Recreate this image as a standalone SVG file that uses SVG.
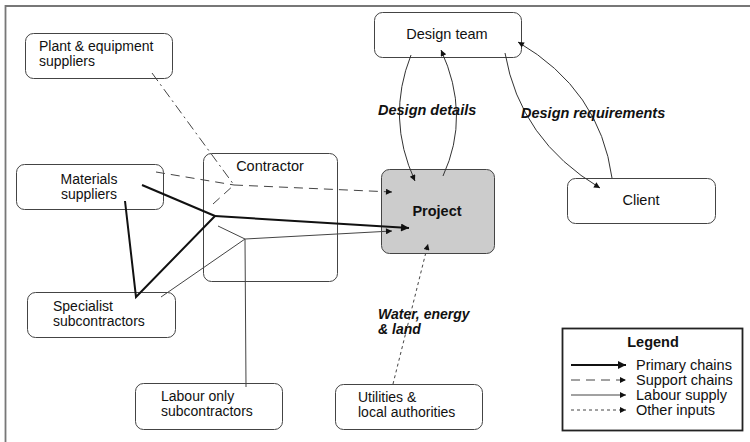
<svg xmlns="http://www.w3.org/2000/svg" width="750" height="442" viewBox="0 0 750 442">
<defs>
<marker id="ah" viewBox="0 0 10 10" refX="10" refY="5" markerWidth="9" markerHeight="6" markerUnits="userSpaceOnUse" orient="auto"><path d="M0,0 L10,5 L0,10 Z" fill="#111"/></marker>
<marker id="ahb" viewBox="0 0 10 10" refX="10" refY="5" markerWidth="13" markerHeight="8" markerUnits="userSpaceOnUse" orient="auto"><path d="M0,0 L10,5 L0,10 Z" fill="#111"/></marker>
<style>
.node rect{fill:#fff;stroke:#444;stroke-width:1}
text{font-family:"Liberation Sans",Arial,sans-serif;font-size:14.5px;fill:#111}
.node text{font-size:14px}
.lbl{font-weight:bold;font-style:italic}
.prim{stroke:#111;stroke-width:2;fill:none}
.supp{stroke:#444;stroke-width:1;stroke-dasharray:9,6;fill:none}
.dd{stroke:#444;stroke-width:1;stroke-dasharray:10,4,2,4;fill:none}
.lab{stroke:#444;stroke-width:1;fill:none}
.oth{stroke:#444;stroke-width:1;stroke-dasharray:3,3;fill:none}
.des{stroke:#333;stroke-width:1;fill:none}
</style>
</defs>
<rect width="750" height="442" fill="#fff"/>
<path d="M5.5,442 V6 H750" fill="none" stroke="#777" stroke-width="1.8"/>

<g id="contractor" class="node"><rect x="203.5" y="153.5" width="134" height="128" rx="8"/><text x="270" y="171" text-anchor="middle" style="font-size:14.5px">Contractor</text></g>
<g id="plant" class="node"><rect x="25.5" y="33.5" width="147" height="45" rx="8"/><text x="39" y="51">Plant &amp; equipment</text><text x="39" y="66">suppliers</text></g>
<g id="materials" class="node"><rect x="16.5" y="164.5" width="147" height="45" rx="8"/><text x="89" y="184" text-anchor="middle">Materials</text><text x="89" y="199" text-anchor="middle">suppliers</text></g>
<g id="design" class="node"><rect x="374.5" y="12.5" width="147" height="45" rx="8"/><text x="447" y="39" text-anchor="middle" style="font-size:14.5px">Design team</text></g>
<g id="project" class="node"><rect x="381.5" y="169.5" width="113" height="84" rx="8" style="fill:#cccccc"/><text x="437" y="216" text-anchor="middle" font-weight="bold" style="font-size:14.5px">Project</text></g>
<g id="client" class="node"><rect x="567.5" y="178.5" width="148" height="45" rx="8"/><text x="641" y="205" text-anchor="middle" style="font-size:14.5px">Client</text></g>
<g id="specialist" class="node"><rect x="27.5" y="292.5" width="148" height="45" rx="8"/><text x="53" y="311">Specialist</text><text x="53" y="326">subcontractors</text></g>
<g id="labour" class="node"><rect x="135.5" y="383.5" width="147" height="46" rx="8"/><text x="161" y="401">Labour only</text><text x="161" y="416">subcontractors</text></g>
<g id="utilities" class="node"><rect x="335.5" y="384.5" width="147" height="45" rx="8"/><text x="358" y="402">Utilities &amp;</text><text x="358" y="417">local authorities</text></g>

<g id="connectors">
<path class="dd" d="M152,73 L234,185"/>
<path class="supp" d="M156,172 L234,185"/>
<path class="supp" d="M213,204 L234,185"/>
<path class="supp" d="M234,185 L392,192" marker-end="url(#ah)"/>
<path class="prim" d="M142,185 L215,216"/>
<path class="prim" d="M125,201 L136,297 L215,216"/>
<path class="prim" d="M215,216 L409,228" marker-end="url(#ahb)"/>
<path class="lab" d="M161,297 L245,239"/>
<path class="lab" d="M218,226 L245,239"/>
<path class="lab" d="M246,387 L245,239"/>
<path class="lab" d="M245,239 L392,231" marker-end="url(#ah)"/>
<path class="oth" d="M393,384 L428,244" marker-end="url(#ah)"/>
<path class="des" d="M411,55 Q386,118 415,181" marker-end="url(#ah)"/>
<path class="des" d="M443,176 Q471,115 441,50" marker-end="url(#ah)"/>
<path class="des" d="M505,53 Q520,140 600,188" marker-end="url(#ah)"/>
<path class="des" d="M612,178 Q600,90 518,42" marker-end="url(#ah)"/>
</g>

<text class="lbl" x="378" y="115">Design details</text>
<text class="lbl" x="521" y="118">Design requirements</text>
<text class="lbl" x="378" y="319" style="font-size:14px">Water, energy</text>
<text class="lbl" x="378" y="334" style="font-size:14px">&amp; land</text>

<g id="legend">
<rect x="562.5" y="328.5" width="180" height="102" fill="#fff" stroke="#222" stroke-width="1.8"/>
<text x="653" y="347" text-anchor="middle" font-weight="bold">Legend</text>
<path class="prim" d="M571,365 L626,365" marker-end="url(#ahb)"/>
<path class="supp" d="M571,380 L626,380" marker-end="url(#ah)"/>
<path class="lab" d="M571,395 L626,395" marker-end="url(#ah)"/>
<path class="oth" d="M571,410 L626,410" marker-end="url(#ah)"/>
<text x="636" y="370">Primary chains</text>
<text x="636" y="385">Support chains</text>
<text x="636" y="400">Labour supply</text>
<text x="636" y="415">Other inputs</text>
</g>
</svg>
